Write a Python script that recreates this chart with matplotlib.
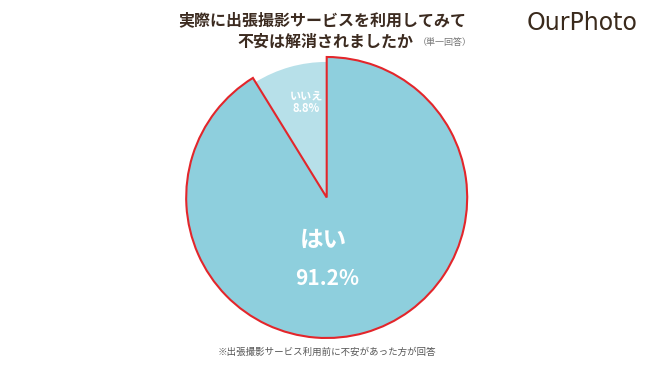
import matplotlib
matplotlib.use("Agg")
import matplotlib.pyplot as plt

plt.rcParams['font.family'] = ['Noto Sans CJK JP', 'DejaVu Sans']

labels = ["はい", "いいえ"]
values = [91.2, 8.8]
colors = ["#8ECFDD", "#B7E0E9"]

title1 = "実際に出張撮影サービスを利用してみて"
title2 = "不安は解消されましたか"
note = "（単一回答）"
footnote = "※出張撮影サービス利用前に不安があった方が回答"
brand = "OurPhoto"

W, H = 650, 365
fig = plt.figure(figsize=(W / 100, H / 100), dpi=100)
fig.patch.set_facecolor("white")

cx, cy, r = 326.7, 197.5, 140.5
ax = fig.add_axes([(cx - r) / W, (H - cy - r) / H, 2 * r / W, 2 * r / H])
wedges, _ = ax.pie(values, colors=colors, startangle=90, counterclock=False,
                   radius=1.0, wedgeprops=dict(linewidth=0))
wedges[0].set_edgecolor("#E3262B")
wedges[0].set_linewidth(1.5)
wedges[0].set_zorder(3)
wedges[1].set_zorder(2)
wedges[1].set_radius(0.965)
ax.set_xlim(-1, 1)
ax.set_ylim(-1, 1)
ax.set_aspect("equal")
ax.axis("off")

# labels
ax.text(-0.02, -0.30, labels[0], color="white", fontsize=17, fontweight="bold",
        ha="center", va="center", zorder=5)
ax.text(0.0, -0.58, f"{values[0]}%", color="white", fontsize=15, fontweight="bold",
        ha="center", va="center", zorder=5)
ax.text(-0.145, 0.72, labels[1], color="white", fontsize=8, fontweight="bold",
        ha="center", va="center", zorder=5)
ax.text(-0.145, 0.63, f"{values[1]}%", color="white", fontsize=8, fontweight="bold",
        ha="center", va="center", zorder=5)

tc = "#3C2B20"
fig.text(322 / W, 1 - 20 / H, title1, color=tc, fontsize=11.5, fontweight="bold",
         ha="center", va="center")
fig.text(325 / W, 1 - 42 / H, title2, color=tc, fontsize=11.5, fontweight="bold",
         ha="center", va="center")
fig.text(418 / W, 1 - 43 / H, note, color="#777777", fontsize=6.5,
         ha="left", va="center")
fig.text(582 / W, 1 - 23 / H, brand, color="#3A2A1C", fontsize=17,
         family="DejaVu Sans", ha="center", va="center")
fig.text(327 / W, 1 - 352 / H, footnote, color="#555555", fontsize=6.8,
         ha="center", va="center")

fig.savefig("out.png", dpi=100, facecolor="white")
